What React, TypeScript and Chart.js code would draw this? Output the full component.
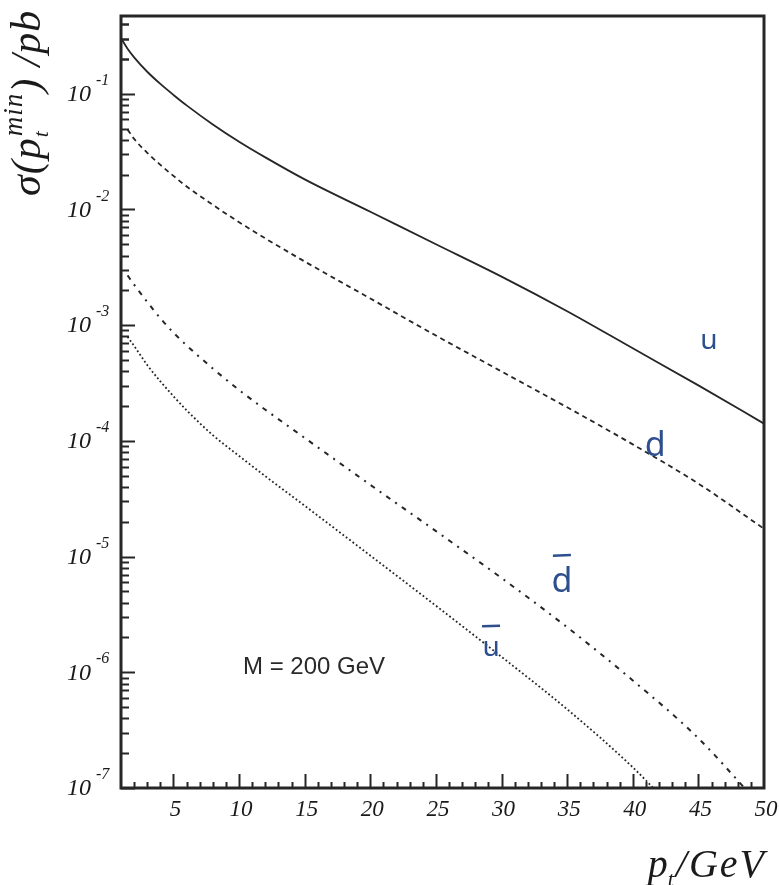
import React, { useEffect, useRef } from "react";
import { Chart, registerables } from "chart.js";

Chart.register(...registerables);

// ---- data ----
const ptU = [1, 1.5, 2, 3, 4, 5, 6, 8, 10, 12, 15, 20, 25, 30, 35, 40, 45, 50];
const sigmaU = [0.302, 0.245, 0.2065, 0.155, 0.1216, 0.0977, 0.0794, 0.0543, 0.0385, 0.0282, 0.0182, 0.00955, 0.00501, 0.00263, 0.00132, 6.31e-4, 3.02e-4, 1.41e-4];

const ptD = [1.5, 2, 3, 4, 5, 6, 8, 10, 12, 15, 20, 25, 30, 35, 40, 45, 50];
const sigmaD = [0.049, 0.0407, 0.0309, 0.0243, 0.0195, 0.0158, 0.01096, 0.00776, 0.00562, 0.00355, 0.0017, 8.13e-4, 3.98e-4, 1.95e-4, 9.33e-5, 4.27e-5, 1.74e-5];

const ptDbar = [1.5, 2, 3, 4, 5, 6, 8, 10, 12, 15, 20, 25, 30, 35, 40, 45, 49];
const sigmaDbar = [2.69e-3, 2.24e-3, 1.585e-3, 1.148e-3, 8.61e-4, 6.68e-4, 4.22e-4, 2.75e-4, 1.86e-4, 1.06e-4, 4.17e-5, 1.66e-5, 6.53e-6, 2.45e-6, 8.51e-7, 2.69e-7, 8.7e-8];

const ptUbar = [1.5, 2, 3, 4, 5, 6, 8, 10, 12, 15, 20, 25, 30, 35, 40, 42];
const sigmaUbar = [7.94e-4, 6.61e-4, 4.52e-4, 3.27e-4, 2.43e-4, 1.84e-4, 1.12e-4, 7.41e-5, 4.95e-5, 2.75e-5, 1.02e-5, 3.76e-6, 1.36e-6, 4.79e-7, 1.51e-7, 8.9e-8];

const xTickLabels = [5, 10, 15, 20, 25, 30, 35, 40, 45, 50];
const yTickExponents = [-7, -6, -5, -4, -3, -2, -1];

const X_MIN = 1;
const X_MAX = 50;
const Y_MIN = 1e-7;
const Y_MAX = 0.47;

const annotationText = "M = 200 GeV";
const curveLabels = [
  { text: "u", x: 45.8, y: 7.3e-4, bar: false },
  { text: "d", x: 41.7, y: 8.9e-5, bar: false },
  { text: "d", x: 34.6, y: 6.0e-6, bar: true },
  { text: "u", x: 29.2, y: 1.62e-6, bar: true },
];

const toPoints = (xs: number[], ys: number[]) => xs.map((x, i) => ({ x, y: ys[i] }));

const INK = "#262626";
const BLUE = "#2d4f8e";
const SERIF = '"Liberation Serif", "DejaVu Serif", serif';

const decorPlugin = {
  id: "decor",
  afterDatasetsDraw(chart: any) {
    const ctx: CanvasRenderingContext2D = chart.ctx;
    const { left, right, top, bottom } = chart.chartArea;
    const xs = chart.scales.x;
    const ys = chart.scales.y;
    ctx.save();

    // y ticks (inward)
    ctx.strokeStyle = INK;
    ctx.lineWidth = 2;
    for (const e of yTickExponents) {
      for (let m = 1; m <= 9; m++) {
        const v = m * Math.pow(10, e);
        if (v > Y_MAX) continue;
        const py = Math.round(ys.getPixelForValue(v)) + 0.5;
        const len = m === 1 ? 14 : 8;
        ctx.beginPath();
        ctx.moveTo(left, py);
        ctx.lineTo(left + len, py);
        ctx.stroke();
      }
    }
    for (let m = 2; m <= 9; m++) {
      const v = m * 0.1;
      if (v > Y_MAX) continue;
      const py = Math.round(ys.getPixelForValue(v)) + 0.5;
      ctx.beginPath();
      ctx.moveTo(left, py);
      ctx.lineTo(left + 8, py);
      ctx.stroke();
    }
    // x ticks (inward)
    for (let v = X_MIN + 1; v < X_MAX; v++) {
      const px = Math.round(xs.getPixelForValue(v)) + 0.5;
      const len = v % 5 === 0 ? 14 : 6;
      ctx.beginPath();
      ctx.moveTo(px, bottom);
      ctx.lineTo(px, bottom - len);
      ctx.stroke();
    }

    // frame
    ctx.lineWidth = 3;
    ctx.strokeStyle = INK;
    ctx.strokeRect(left, top, right - left, bottom - top);

    // y tick labels 10^n
    ctx.fillStyle = "#1a1a1a";
    for (const e of yTickExponents) {
      const py = ys.getPixelForValue(Math.pow(10, e));
      ctx.font = `italic 24px ${SERIF}`;
      ctx.textAlign = "right";
      ctx.textBaseline = "middle";
      ctx.fillText("10", 91, py + 1);
      ctx.font = `italic 16px ${SERIF}`;
      ctx.textAlign = "left";
      ctx.fillText(String(e), 96, py - 13);
    }

    // x tick labels
    ctx.font = `italic 23px ${SERIF}`;
    ctx.textAlign = "center";
    ctx.textBaseline = "middle";
    for (const v of xTickLabels) {
      ctx.fillText(String(v), xs.getPixelForValue(v) + 2, 810);
    }

    // x title  p_t /GeV
    ctx.textBaseline = "alphabetic";
    ctx.textAlign = "left";
    (ctx as any).letterSpacing = "2px";
    ctx.font = `italic 40px ${SERIF}`;
    const wRest = ctx.measureText("/GeV").width;
    const wP = ctx.measureText("p").width;
    ctx.font = `italic 22px ${SERIF}`;
    const wT = ctx.measureText("t").width;
    const xEnd = 766;
    const xRest = xEnd - wRest;
    const xT = xRest - wT;
    const xP = xT - wP + 2;
    ctx.font = `italic 40px ${SERIF}`;
    ctx.fillText("p", xP, 877);
    ctx.fillText("/GeV", xRest, 877);
    ctx.font = `italic 22px ${SERIF}`;
    ctx.fillText("t", xT, 886);
    (ctx as any).letterSpacing = "0px";

    // y title  σ(p_t^min) /pb  (rotated)
    ctx.save();
    ctx.translate(40, 196);
    ctx.rotate(-Math.PI / 2);
    (ctx as any).letterSpacing = "1px";
    let cx = 0;
    const put = (t: string, size: number, dy: number) => {
      ctx.font = `italic ${size}px ${SERIF}`;
      ctx.fillText(t, cx, dy);
      cx += ctx.measureText(t).width;
    };
    put("σ(p", 42, 0);
    const subStart = cx;
    put("t", 22, 8);
    cx = subStart + 1;
    put("min", 27, -18);
    put(") /pb", 42, 0);
    (ctx as any).letterSpacing = "0px";
    ctx.restore();

    // annotation
    ctx.font = `24px "Liberation Sans", Arial, sans-serif`;
    ctx.fillStyle = "#2a2a2a";
    ctx.textAlign = "left";
    ctx.textBaseline = "middle";
    ctx.fillText(annotationText, 243, 667);

    // handwritten curve labels
    ctx.fillStyle = BLUE;
    ctx.strokeStyle = BLUE;
    ctx.lineWidth = 2.5;
    ctx.textAlign = "center";
    ctx.textBaseline = "middle";
    for (const lab of curveLabels) {
      const px = xs.getPixelForValue(lab.x);
      const py = ys.getPixelForValue(lab.y);
      const size = lab.text === "d" ? 34 : 28;
      ctx.font = `${size}px "Noto Sans", sans-serif`;
      ctx.fillText(lab.text, px, py);
      if (lab.bar) {
        ctx.beginPath();
        ctx.moveTo(px - 9, py - size * 0.78);
        ctx.lineTo(px + 9, py - size * 0.8);
        ctx.stroke();
      }
    }
    ctx.restore();
  },
};

export default function App() {
  const ref = useRef<HTMLCanvasElement | null>(null);

  useEffect(() => {
    document.body.style.margin = "0";
    document.body.style.overflow = "hidden";
    const canvas = ref.current;
    if (!canvas) return;
    const lineBase = {
      borderColor: INK,
      pointRadius: 0,
      fill: false,
      cubicInterpolationMode: "monotone" as const,
      borderCapStyle: "butt" as const,
    };
    const chart = new Chart(canvas, {
      type: "line",
      data: {
        datasets: [
          { ...lineBase, label: "u", data: toPoints(ptU, sigmaU), borderWidth: 1.8 },
          { ...lineBase, label: "d", data: toPoints(ptD, sigmaD), borderWidth: 1.8, borderDash: [5, 4] },
          { ...lineBase, label: "dbar", data: toPoints(ptDbar, sigmaDbar), borderWidth: 2, borderDash: [5, 6, 2, 6] },
          { ...lineBase, label: "ubar", data: toPoints(ptUbar, sigmaUbar), borderWidth: 1.8, borderDash: [1.8, 2.4] },
        ],
      },
      options: {
        responsive: false,
        animation: false,
        devicePixelRatio: 1,
        layout: { padding: { left: 121, right: 15, top: 16, bottom: 97 } },
        plugins: { legend: { display: false }, tooltip: { enabled: false } },
        scales: {
          x: { type: "linear", min: X_MIN, max: X_MAX, display: false },
          y: { type: "logarithmic", min: Y_MIN, max: Y_MAX, display: false },
        },
      },
      plugins: [decorPlugin],
    });
    return () => chart.destroy();
  }, []);

  return (
    <div style={{ width: 779, height: 885, background: "#fff" }}>
      <canvas ref={ref} width={779} height={885} style={{ display: "block" }} />
    </div>
  );
}
